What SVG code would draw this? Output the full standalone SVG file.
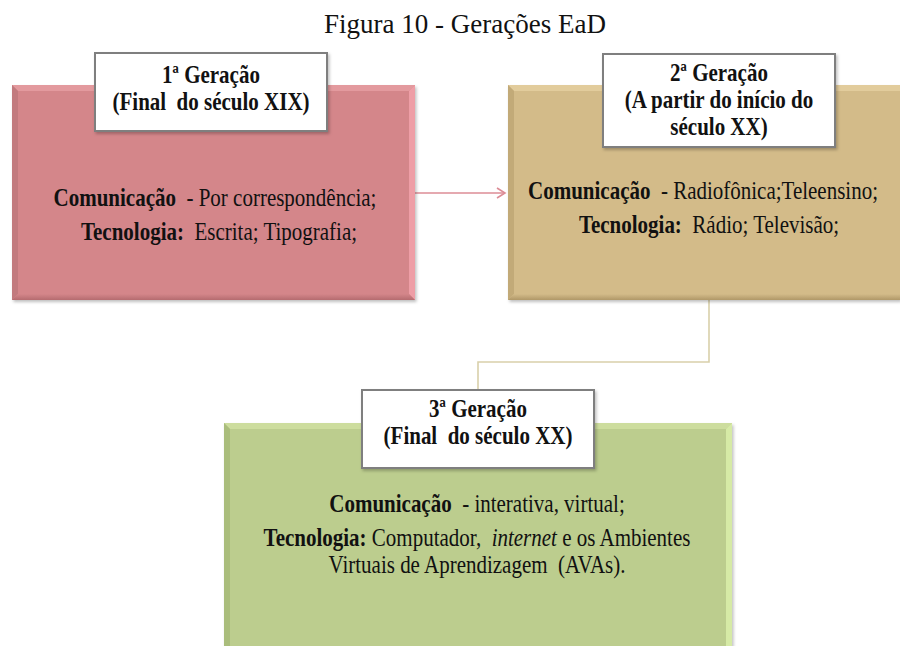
<svg xmlns="http://www.w3.org/2000/svg" width="900" height="646" viewBox="0 0 900 646">
  <defs>
    <style>
      text { font-family: 'Liberation Serif', 'Times New Roman', serif; fill: #111; }
      .title { font-size: 27px; text-anchor: middle; }
      .lbl { font-size: 21px; font-weight: bold; text-anchor: middle; }
      .body { font-size: 21px; text-anchor: middle; }
      .b { font-weight: bold; }
      .i { font-style: italic; }
      .lblbox { fill: #ffffff; stroke: #7f7f7f; stroke-width: 2; }
      .conn { fill: none; stroke-width: 1.6; }
    </style>
    <marker id="chev" markerWidth="12" markerHeight="12" refX="10" refY="6" orient="auto" markerUnits="userSpaceOnUse">
      <path d="M2,1 L10,6 L2,11" fill="none" stroke="#dc8c96" stroke-width="1.6"/>
    </marker>
    <linearGradient id="pinkBot" x1="0" y1="0" x2="0" y2="1">
      <stop offset="0" stop-color="#d4868a"/>
      <stop offset="1" stop-color="#b56c70"/>
    </linearGradient>
    <linearGradient id="tanBot" x1="0" y1="0" x2="0" y2="1">
      <stop offset="0" stop-color="#d3bb89"/>
      <stop offset="1" stop-color="#b09868"/>
    </linearGradient>
    <filter id="sh" x="-5%" y="-5%" width="115%" height="120%">
      <feDropShadow dx="1.5" dy="2" stdDeviation="1.5" flood-color="#000" flood-opacity="0.25"/>
    </filter>
  </defs>

  <rect width="900" height="646" fill="#ffffff"/>

  <text class="title" x="465" y="33">Figura 10 - Gerações EaD</text>

  <!-- connectors -->
  <g id="connectors">
    <line class="conn" x1="415" y1="193" x2="505" y2="193" stroke="#dc8c96" marker-end="url(#chev)"/>
    <polyline class="conn" points="709,300 709,362 478,362 478,389" stroke="#d9d0aa"/>
  </g>

  <!-- first generation (text is drawn slightly tall: scale 1 x 1.22) -->
  <g id="gen1">
    <rect x="12" y="85" width="403" height="215" fill="#d4868a" filter="url(#sh)"/>
    <polygon points="12,85 415,85 409,91 18,91" fill="#e39a9e"/>
    <polygon points="12,85 18,91 18,294 12,300" fill="#c27a7e"/>
    <polygon points="415,85 415,300 409,294 409,91" fill="#ee9ea6"/>
    <polygon points="12,300 18,294 409,294 415,300" fill="url(#pinkBot)"/>
    <rect class="lblbox" x="95" y="53" width="232" height="78" filter="url(#sh)"/>
    <text class="lbl" transform="translate(211,83) scale(1,1.22)">1ª Geração</text>
    <text class="lbl" transform="translate(211,110) scale(1,1.22)" xml:space="preserve">(Final  do século XIX)</text>
    <text class="body" transform="translate(215,206) scale(1,1.22)" xml:space="preserve"><tspan class="b">Comunicação</tspan>  - Por correspondência;</text>
    <text class="body" transform="translate(219,240) scale(1,1.22)" xml:space="preserve"><tspan class="b">Tecnologia:</tspan>  Escrita; Tipografia;</text>
  </g>

  <!-- second generation -->
  <g id="gen2">
    <rect x="508" y="85" width="392" height="215" fill="#d3bb89" filter="url(#sh)"/>
    <polygon points="508,85 900,85 900,91 514,91" fill="#e2cc9c"/>
    <polygon points="508,85 514,91 514,294 508,300" fill="#c2aa78"/>
    <polygon points="508,300 514,294 900,294 900,300" fill="url(#tanBot)"/>
    <rect class="lblbox" x="603" y="54" width="232" height="93" filter="url(#sh)"/>
    <text class="lbl" transform="translate(719,81) scale(1,1.22)">2ª Geração</text>
    <text class="lbl" transform="translate(719,108) scale(1,1.22)">(A partir do início do</text>
    <text class="lbl" transform="translate(719,135) scale(1,1.22)">século XX)</text>
    <text class="body" transform="translate(703,199) scale(1,1.22)" xml:space="preserve"><tspan class="b">Comunicação</tspan>  - Radiofônica;Teleensino;</text>
    <text class="body" transform="translate(709,233) scale(1,1.22)" xml:space="preserve"><tspan class="b">Tecnologia:</tspan>  Rádio; Televisão;</text>
  </g>

  <!-- third generation -->
  <g id="gen3">
    <rect x="224" y="423" width="508" height="223" fill="#bccd8e" filter="url(#sh)"/>
    <polygon points="224,423 732,423 726,429 230,429" fill="#cddd9e"/>
    <polygon points="224,423 230,429 230,646 224,646" fill="#aabd7c"/>
    <polygon points="732,423 732,646 726,646 726,429" fill="#d6eaa6"/>
    <rect class="lblbox" x="362" y="390" width="232" height="78" filter="url(#sh)"/>
    <text class="lbl" transform="translate(478,417) scale(1,1.22)">3ª Geração</text>
    <text class="lbl" transform="translate(478,444) scale(1,1.22)" xml:space="preserve">(Final  do século XX)</text>
    <text class="body" transform="translate(477,512) scale(1,1.22)" xml:space="preserve"><tspan class="b">Comunicação</tspan>  - interativa, virtual;</text>
    <text class="body" transform="translate(477,546) scale(1,1.22)" xml:space="preserve"><tspan class="b">Tecnologia:</tspan> Computador,  <tspan class="i">internet</tspan> e os Ambientes</text>
    <text class="body" transform="translate(477,573) scale(1,1.22)" xml:space="preserve">Virtuais de Aprendizagem  (AVAs).</text>
  </g>
</svg>
